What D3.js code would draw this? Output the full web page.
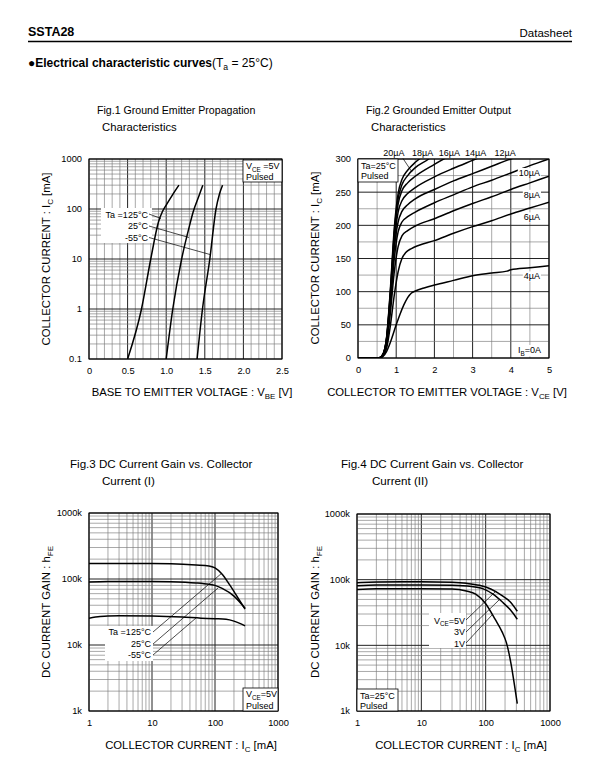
<!DOCTYPE html>
<html><head><meta charset="utf-8">
<script src="https://cdn.jsdelivr.net/npm/d3@7"></script>
<style>body{margin:0;background:#fff}svg{display:block}</style>
</head><body><svg id="c" width="595" height="783"></svg>
<script>
// ---------------- DATA ----------------
// Fig.1  VBE [V] vs IC [mA]
const fig1Legend = ["Ta =125°C", "25°C", "-55°C"];
const fig1_125 = [[0.5,0.1],[0.68,1],[0.80,10],[0.90,55],[0.95,88],[1.0,120],[1.08,190],[1.165,300]];
const fig1_25  = [[1.0,0.1],[1.085,1],[1.2,10],[1.3,45],[1.35,88],[1.42,175],[1.475,300]];
const fig1_m55 = [[1.4,0.1],[1.47,1],[1.565,10],[1.645,100],[1.69,200],[1.73,300]];
const fig1XTicks = [0,0.5,1.0,1.5,2.0,2.5];
const fig1XTickLabels = ["0","0.5","1.0","1.5","2.0","2.5"];
const fig1YTicks = [0.1,1,10,100,1000];
const fig1YTickLabels = ["0.1","1","10","100","1000"];

// Fig.2  VCE [V] vs IC [mA] for IB
const fig2IB = ["4µA","6µA","8µA","10µA","12µA","14µA","16µA","18µA","20µA"];
const fig2_4  = [[0,0],[0.55,0],[0.65,2],[0.75,10],[0.85,24],[1.0,50],[1.1,66],[1.2,80],[1.3,91],[1.4,98],[1.5,101],[1.75,106],[2,110],[2.5,117],[3,124],[3.5,128],[3.9,131],[4,133],[4.5,136],[5,139]];
const fig2_6  = [[0,0],[0.55,0],[0.65,3],[0.75,15],[0.85,50],[0.95,95],[1.05,130],[1.15,150],[1.25,159],[1.4,165],[1.6,170],[2,177],[2.5,188],[3,198],[3.5,207],[4,217],[4.5,226],[5,235]];
const fig2_8  = [[0,0],[0.55,0],[0.65,4],[0.75,20],[0.85,70],[0.95,130],[1.05,168],[1.15,184],[1.3,192],[1.5,199],[2,210],[2.5,222],[3,233],[3.5,243],[4,254],[4.5,264],[5,274]];
const fig2_10 = [[0,0],[0.55,0],[0.65,4],[0.75,24],[0.85,80],[0.95,150],[1.05,190],[1.15,205],[1.3,213],[1.5,220],[2,234],[2.5,246],[3,258],[3.5,268],[4,279],[4.5,290],[5,300]];
const fig2_12 = [[0,0],[0.55,0],[0.65,5],[0.75,27],[0.85,88],[0.95,165],[1.05,205],[1.15,221],[1.3,231],[1.5,240],[2,254],[2.5,267],[3,278],[3.5,289],[4,300],[4.5,309],[5,318]];
const fig2_14 = [[0,0],[0.55,0],[0.65,5],[0.75,29],[0.85,94],[0.95,175],[1.05,220],[1.15,237],[1.3,248],[1.5,257],[2,273],[2.5,286],[3,298],[3.5,310]];
const fig2_16 = [[0,0],[0.55,0],[0.65,5],[0.75,30],[0.85,98],[0.95,185],[1.05,232],[1.15,252],[1.3,264],[1.5,274],[2,292],[2.5,308]];
const fig2_18 = [[0,0],[0.55,0],[0.65,5],[0.75,31],[0.85,102],[0.95,190],[1.05,240],[1.15,261],[1.3,275],[1.5,287],[1.85,300],[2.0,307]];
const fig2_20 = [[0,0],[0.55,0],[0.65,5],[0.75,32],[0.85,106],[0.95,196],[1.05,248],[1.15,269],[1.3,283],[1.5,295],[1.65,302],[1.8,308]];
const fig2TopLabels = ["20µA","18µA","16µA","14µA","12µA"];
const fig2TopLabelV = [0.94,1.69,2.39,3.08,3.85];
const fig2RightLabels = ["10µA","8µA","6µA","4µA"];
const fig2RightLabelI = [279,246,212,123];
const fig2XTicks = [0,1,2,3,4,5];
const fig2YTicks = [0,50,100,150,200,250,300];

// Fig.3  IC [mA] vs hFE, temperatures
const fig3Legend = ["Ta =125°C", "25°C", "-55°C"];
const fig3_125 = [[1,172000],[3,172000],[10,172000],[20,170000],[50,163000],[80,158000],[100,147000],[130,118000],[170,82000],[220,56000],[300,35000]];
const fig3_25  = [[1,90000],[2,92000],[5,92000],[10,92000],[20,91000],[50,87000],[80,83000],[100,80000],[130,72000],[200,55000],[300,36000]];
const fig3_m55 = [[1,25500],[1.5,27000],[2,27600],[3,27800],[10,27500],[30,26500],[60,25500],[100,25000],[150,24500],[200,23000],[300,19500]];
const logXTicks = [1,10,100,1000];
const logXTickLabels = ["1","10","100","1000"];
const hfeTicks = [1e3,1e4,1e5,1e6];
const hfeTickLabels = ["1k","10k","100k","1000k"];

// Fig.4  IC [mA] vs hFE, VCE
const fig4Legend = ["=5V","3V","1V"];
const fig4_5V = [[1,90000],[2,92000],[5,93000],[10,93000],[30,91000],[50,88000],[80,82000],[120,72000],[180,57000],[240,46000],[310,33000]];
const fig4_3V = [[1,81000],[2,83000],[10,83000],[30,82000],[60,79000],[90,73000],[130,60000],[180,46000],[240,35000],[310,25000]];
const fig4_1V = [[1,71000],[2,73000],[10,73000],[30,72000],[50,67000],[70,60000],[100,43000],[140,25000],[180,16000],[210,11000],[250,5000],[280,2500],[310,1300]];

// ---------------- DRAWING ----------------
const FONT = '"Liberation Sans", Arial, Helvetica, sans-serif';
const svg = d3.select("#c").attr("font-family", FONT);
const MINOR = "#7a7a7a", MAJOR = "#222";

function rich(sel, parts) {
  let shift = 0;
  parts.forEach(p => {
    const isSub = typeof p !== "string";
    const t = sel.append("tspan").text(isSub ? p.s : p);
    const target = isSub ? (p.dy || 2.5) : 0;
    if (target !== shift) { t.attr("dy", target - shift); shift = target; }
    if (isSub) t.attr("font-size", p.fs || "70%");
  });
  return sel;
}
function txt(g, x, y, parts, o = {}) {
  const t = g.append("text").attr("x", x).attr("y", y)
    .attr("font-size", o.fs || 11).attr("text-anchor", o.anchor || "start")
    .attr("font-weight", o.fw || "normal").attr("fill", "#000");
  if (o.rot) t.attr("transform", `rotate(-90,${x},${y})`);
  return rich(t, parts);
}
function logGrid(lo, hi) {
  const out = [];
  for (let e = Math.round(Math.log10(lo)); e < Math.round(Math.log10(hi)); e++)
    for (let m = 1; m <= 9; m++) out.push(m * Math.pow(10, e));
  out.push(hi);
  return out;
}
function drawPanel(o) {
  const g = svg.append("g");
  const [xa, xb] = o.x.range(), [yb, ya] = o.y.range();
  g.selectAll(null).data(o.xGrid).join("line")
    .attr("x1", d => o.x(d)).attr("x2", d => o.x(d)).attr("y1", ya).attr("y2", yb)
    .attr("stroke", d => o.xMajor(d) ? MAJOR : MINOR).attr("stroke-width", d => o.xMajor(d) ? 1 : 0.65);
  g.selectAll(null).data(o.yGrid).join("line")
    .attr("y1", d => o.y(d)).attr("y2", d => o.y(d)).attr("x1", xa).attr("x2", xb)
    .attr("stroke", d => o.yMajor(d) ? MAJOR : MINOR).attr("stroke-width", d => o.yMajor(d) ? 1 : 0.65);
  g.append("rect").attr("x", xa).attr("y", ya).attr("width", xb - xa).attr("height", yb - ya)
    .attr("fill", "none").attr("stroke", "#000").attr("stroke-width", 1);
  const ax = g.append("g").attr("transform", `translate(0,${yb})`)
    .call(d3.axisBottom(o.x).tickValues(o.xTicks).tickFormat((d, i) => o.xLabels[i]).tickSize(0).tickPadding(8));
  const ay = g.append("g").attr("transform", `translate(${xa},0)`)
    .call(d3.axisLeft(o.y).tickValues(o.yTicks).tickFormat((d, i) => o.yLabels[i]).tickSize(0).tickPadding(7));
  [ax, ay].forEach(a => {
    a.select(".domain").remove();
    a.attr("font-family", FONT).attr("font-size", 9.3);
    a.selectAll("text").attr("fill", "#000");
  });
  const clipId = "clip" + Math.random().toString(36).slice(2);
  g.append("clipPath").attr("id", clipId).append("rect")
    .attr("x", xa).attr("y", ya).attr("width", xb - xa).attr("height", yb - ya);
  const line = d3.line().x(d => o.x(d[0])).y(d => o.y(d[1])).curve(d3.curveMonotoneX);
  const cg = g.append("g").attr("clip-path", `url(#${clipId})`);
  o.series.forEach(s => cg.append("path").attr("d", line(s)).attr("fill", "none")
    .attr("stroke", "#000").attr("stroke-width", 1.5).attr("stroke-linejoin", "round"));
  return g;
}
function box(g, x, y, w, h, border) {
  g.append("rect").attr("x", x).attr("y", y).attr("width", w).attr("height", h)
    .attr("fill", "#fff").attr("stroke", border ? "#000" : "none").attr("stroke-width", 0.8);
}
function seg(g, a, b) {
  g.append("line").attr("x1", a[0]).attr("y1", a[1]).attr("x2", b[0]).attr("y2", b[1])
    .attr("stroke", "#000").attr("stroke-width", 0.7);
}

// Header
const hd = svg.append("g");
txt(hd, 28, 36, ["SSTA28"], { fs: 12.5, fw: "bold" });
txt(hd, 572, 37, ["Datasheet"], { fs: 11.5, anchor: "end" });
hd.append("line").attr("x1", 28).attr("x2", 572).attr("y1", 41.5).attr("y2", 41.5).attr("stroke", "#000").attr("stroke-width", 1.5);
const h2 = hd.append("text").attr("x", 28).attr("y", 67).attr("font-size", 12).attr("fill", "#000");
h2.append("tspan").attr("font-weight", "bold").text("●Electrical characteristic curves");
h2.append("tspan").text("(T");
h2.append("tspan").attr("font-size", "72%").attr("dy", 3).text("a");
h2.append("tspan").attr("dy", -3).text(" = 25°C)");

// Titles
txt(svg, 97, 114, ["Fig.1 Ground Emitter Propagation"], { fs: 10.6 });
txt(svg, 102, 131, ["Characteristics"], { fs: 11.3 });
txt(svg, 366, 114, ["Fig.2 Grounded Emitter Output"], { fs: 10.6 });
txt(svg, 371, 131, ["Characteristics"], { fs: 11.3 });
txt(svg, 70, 468, ["Fig.3 DC Current Gain vs. Collector"], { fs: 11.6 });
txt(svg, 102, 485, ["Current (I)"], { fs: 11.6 });
txt(svg, 341, 468, ["Fig.4 DC Current Gain vs. Collector"], { fs: 11.6 });
txt(svg, 372, 485, ["Current (II)"], { fs: 11.6 });

// ---- Fig 1 ----
const x1 = d3.scaleLinear().domain([0, 2.5]).range([89, 282]);
const y1 = d3.scaleLog().domain([0.1, 1000]).range([359, 159]);
const g1 = drawPanel({
  x: x1, y: y1,
  xGrid: d3.range(0, 26).map(i => i / 10), xMajor: d => Math.abs(d * 2 - Math.round(d * 2)) < 1e-6,
  yGrid: logGrid(0.1, 1000), yMajor: d => Math.abs(Math.log10(d) - Math.round(Math.log10(d))) < 1e-6,
  xTicks: fig1XTicks, xLabels: fig1XTickLabels, yTicks: fig1YTicks, yLabels: fig1YTickLabels,
  series: [fig1_125, fig1_25, fig1_m55]
});
box(g1, 101, 208, 51, 35, false);
fig1Legend.forEach((t, i) => txt(g1, 148, 217.5 + i * 11.7, [t], { fs: 9, anchor: "end" }));
seg(g1, [149, 214], [161, 218.5]);
seg(g1, [149, 226], [189, 237.5]);
seg(g1, [149, 237.5], [210, 254.5]);
box(g1, 243, 160, 39, 22, true);
txt(g1, 246, 169, ["V", { s: "CE" }, " =5V"], { fs: 9 });
txt(g1, 246, 180, ["Pulsed"], { fs: 9 });
txt(svg, 50, 259, ["COLLECTOR CURRENT : I", { s: "C" }, " [mA]"], { fs: 11.4, anchor: "middle", rot: true });
txt(svg, 192, 396, ["BASE TO EMITTER VOLTAGE : V", { s: "BE" }, " [V]"], { fs: 11.3, anchor: "middle" });

// ---- Fig 2 ----
const x2 = d3.scaleLinear().domain([0, 5]).range([358, 549]);
const y2 = d3.scaleLinear().domain([0, 300]).range([358, 159]);
const g2 = drawPanel({
  x: x2, y: y2,
  xGrid: d3.range(0, 11).map(i => i / 2), xMajor: d => Number.isInteger(d),
  yGrid: d3.range(0, 13).map(i => i * 25), yMajor: d => d % 50 === 0,
  xTicks: fig2XTicks, xLabels: fig2XTicks.map(String), yTicks: fig2YTicks, yLabels: fig2YTicks.map(String),
  series: [fig2_4, fig2_6, fig2_8, fig2_10, fig2_12, fig2_14, fig2_16, fig2_18, fig2_20]
});
box(g2, 358, 159, 40, 23, true);
txt(g2, 361, 169, ["Ta=25°C"], { fs: 9 });
txt(g2, 361, 179, ["Pulsed"], { fs: 9 });
fig2TopLabels.forEach((t, i) => txt(g2, x2(fig2TopLabelV[i]), 156, [t], { fs: 9, anchor: "middle" }));
seg(g2, [403, 158.5], [412, 172]);
function labelBg(g, x, y, parts) {
  const t = txt(g, x, y, parts, { fs: 9, anchor: "end" });
  const bb = t.node().getBBox();
  g.insert("rect", () => t.node()).attr("x", bb.x - 1).attr("y", bb.y).attr("width", bb.width + 2).attr("height", bb.height)
    .attr("fill", "#fff");
}
fig2RightLabels.forEach((t, i) => labelBg(g2, 540, y2(fig2RightLabelI[i]) + 3, [t]));
labelBg(g2, 541, 353, ["I", { s: "B" }, "=0A"]);
txt(svg, 319, 258, ["COLLECTOR CURRENT : I", { s: "C" }, " [mA]"], { fs: 11.4, anchor: "middle", rot: true });
txt(svg, 447, 396, ["COLLECTOR TO EMITTER VOLTAGE : V", { s: "CE" }, " [V]"], { fs: 11.3, anchor: "middle" });

// ---- Fig 3 ----
const isDecade = d => Math.abs(Math.log10(d) - Math.round(Math.log10(d))) < 1e-6;
const x3 = d3.scaleLog().domain([1, 1000]).range([89, 278]);
const y3 = d3.scaleLog().domain([1e3, 1e6]).range([711, 513]);
const g3 = drawPanel({
  x: x3, y: y3, xGrid: logGrid(1, 1000), xMajor: isDecade, yGrid: logGrid(1e3, 1e6), yMajor: isDecade,
  xTicks: logXTicks, xLabels: logXTickLabels, yTicks: hfeTicks, yLabels: hfeTickLabels,
  series: [fig3_125, fig3_25, fig3_m55]
});
box(g3, 105, 626, 48, 35, false);
fig3Legend.forEach((t, i) => txt(g3, 151, 635 + i * 11.7, [t], { fs: 9, anchor: "end" }));
seg(g3, [153, 632], [222, 573]);
seg(g3, [153, 644], [218, 588]);
seg(g3, [153, 655], [196, 618]);
box(g3, 243, 688, 35, 23, true);
txt(g3, 246, 697, ["V", { s: "CE" }, "=5V"], { fs: 9 });
txt(g3, 246, 708.5, ["Pulsed"], { fs: 9 });
txt(svg, 50, 612, ["DC CURRENT GAIN : h", { s: "FE" }], { fs: 11.4, anchor: "middle", rot: true });
txt(svg, 191, 749, ["COLLECTOR CURRENT : I", { s: "C" }, " [mA]"], { fs: 11.3, anchor: "middle" });

// ---- Fig 4 ----
const x4 = d3.scaleLog().domain([1, 1000]).range([357, 550]);
const y4 = d3.scaleLog().domain([1e3, 1e6]).range([711, 514]);
const g4 = drawPanel({
  x: x4, y: y4, xGrid: logGrid(1, 1000), xMajor: isDecade, yGrid: logGrid(1e3, 1e6), yMajor: isDecade,
  xTicks: logXTicks, xLabels: logXTickLabels, yTicks: hfeTicks, yLabels: hfeTickLabels,
  series: [fig4_5V, fig4_3V, fig4_1V]
});
box(g4, 429, 613, 37, 35, false);
txt(g4, 465, 623.5, ["V", { s: "CE" }, fig4Legend[0]], { fs: 9, anchor: "end" });
txt(g4, 465, 635, [fig4Legend[1]], { fs: 9, anchor: "end" });
txt(g4, 465, 646.5, [fig4Legend[2]], { fs: 9, anchor: "end" });
seg(g4, [466, 620], [495, 592]);
seg(g4, [466, 632], [499, 600]);
seg(g4, [466, 643], [492, 615]);
box(g4, 357, 689, 41, 22, true);
txt(g4, 360, 699, ["Ta=25°C"], { fs: 9 });
txt(g4, 360, 709, ["Pulsed"], { fs: 9 });
txt(svg, 319, 612, ["DC CURRENT GAIN : h", { s: "FE" }], { fs: 11.4, anchor: "middle", rot: true });
txt(svg, 461, 749, ["COLLECTOR CURRENT : I", { s: "C" }, " [mA]"], { fs: 11.3, anchor: "middle" });
</script></body></html>
